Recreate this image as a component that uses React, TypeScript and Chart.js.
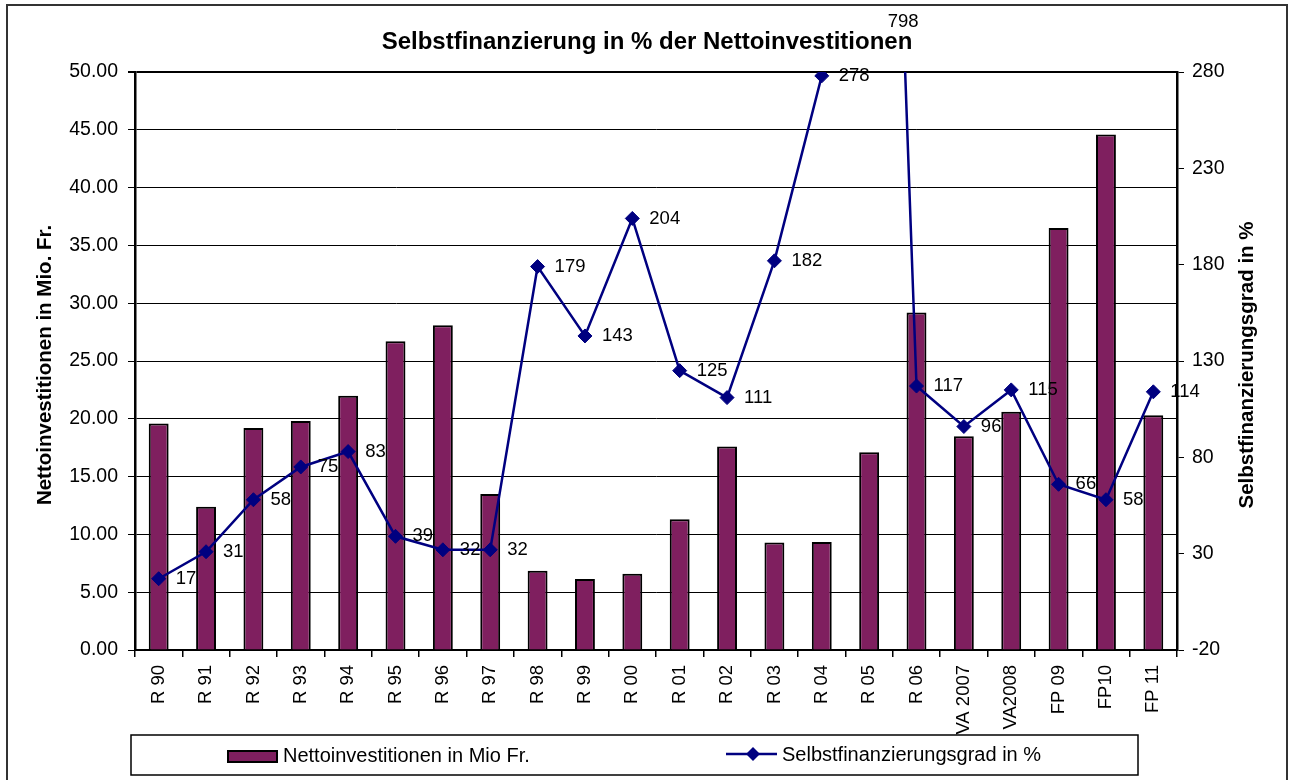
import React, { useEffect, useRef } from 'react';
import { Chart, registerables } from 'chart.js';

Chart.register(...registerables);

const categories = ['R 90', 'R 91', 'R 92', 'R 93', 'R 94', 'R 95', 'R 96', 'R 97', 'R 98', 'R 99', 'R 00', 'R 01', 'R 02', 'R 03', 'R 04', 'R 05', 'R 06', 'VA 2007', 'VA2008', 'FP 09', 'FP10', 'FP 11'];
const investments = [19.6, 12.4, 19.2, 19.8, 22.0, 26.7, 28.1, 13.5, 6.85, 6.15, 6.6, 11.3, 17.6, 9.3, 9.35, 17.1, 29.2, 18.5, 20.6, 36.5, 44.6, 20.3];
const selfFinancing = [17, 31, 58, 75, 83, 39, 32, 32, 179, 143, 204, 125, 111, 182, 278, 798, 117, 96, 115, 66, 58, 114];

const titleText = 'Selbstfinanzierung in % der Nettoinvestitionen';
const leftAxisTitle = 'Nettoinvestitionen in Mio. Fr.';
const rightAxisTitle = 'Selbstfinanzierungsgrad in %';
const barLabel = 'Nettoinvestitionen in Mio Fr.';
const lineLabel = 'Selbstfinanzierungsgrad in %';

const leftMin = 0;
const leftMax = 50;
const leftStep = 5;
const rightMin = -20;
const rightMax = 280;
const rightStep = 50;

const FONT = "'Liberation Sans', Arial, sans-serif";
const BAR_COLOR = '#7f1f5f';
const LINE_COLOR = '#000080';
const W = 1293;
const H = 780;

const decorPlugin = {
  id: 'decor',
  beforeDraw(chart: any) {
    const ctx = chart.ctx;
    ctx.save();
    ctx.fillStyle = '#ffffff';
    ctx.fillRect(0, 0, W, H);
    ctx.strokeStyle = '#333333';
    ctx.lineWidth = 2;
    ctx.strokeRect(7, 5, 1280, 800);
    ctx.restore();
  },
  afterDatasetsDraw(chart: any) {
    const ctx = chart.ctx;
    const area = chart.chartArea;
    const meta = chart.getDatasetMeta(0);
    ctx.save();
    ctx.fillStyle = '#000';
    ctx.font = `18.5px ${FONT}`;
    ctx.textBaseline = 'middle';
    meta.data.forEach((pt: any, i: number) => {
      const val = selfFinancing[i];
      if (pt.y >= area.top - 1) {
        ctx.textAlign = 'left';
        ctx.fillText(String(val), pt.x + 17, pt.y);
      } else {
        const other = meta.data[i + 1] && meta.data[i + 1].y >= area.top ? meta.data[i + 1] : meta.data[i - 1];
        const t = (area.top - pt.y) / (other.y - pt.y);
        const ix = pt.x + t * (other.x - pt.x);
        ctx.textAlign = 'center';
        ctx.fillText(String(val), ix - 2, 22);
      }
    });
    ctx.restore();
  },
  afterDraw(chart: any) {
    const ctx = chart.ctx;
    const area = chart.chartArea;
    const midY = (area.top + area.bottom) / 2 + 4;
    ctx.save();
    // Title
    ctx.fillStyle = '#000';
    ctx.font = `bold 24px ${FONT}`;
    ctx.textAlign = 'center';
    ctx.textBaseline = 'middle';
    ctx.fillText(titleText, 647, 42);
    // Axis titles
    ctx.font = `bold 20.5px ${FONT}`;
    ctx.save();
    ctx.translate(45, midY);
    ctx.rotate(-Math.PI / 2);
    ctx.fillText(leftAxisTitle, 0, 0);
    ctx.restore();
    ctx.save();
    ctx.translate(1247, midY);
    ctx.rotate(-Math.PI / 2);
    ctx.fillText(rightAxisTitle, 0, 0);
    ctx.restore();
    // Legend box
    ctx.fillStyle = '#ffffff';
    ctx.fillRect(131, 735, 1007, 40);
    ctx.strokeStyle = '#000';
    ctx.lineWidth = 1.5;
    ctx.strokeRect(131, 735, 1007, 40);
    // Bar legend item
    ctx.fillStyle = BAR_COLOR;
    ctx.fillRect(228, 751, 49, 11);
    ctx.lineWidth = 2;
    ctx.strokeRect(228, 751, 49, 11);
    ctx.fillStyle = '#000';
    ctx.font = `20px ${FONT}`;
    ctx.textAlign = 'left';
    ctx.textBaseline = 'middle';
    ctx.fillText(barLabel, 283, 756);
    // Line legend item
    ctx.strokeStyle = LINE_COLOR;
    ctx.lineWidth = 2.5;
    ctx.beginPath();
    ctx.moveTo(726, 754);
    ctx.lineTo(777, 754);
    ctx.stroke();
    ctx.fillStyle = LINE_COLOR;
    ctx.beginPath();
    ctx.moveTo(753, 747);
    ctx.lineTo(760, 754);
    ctx.lineTo(753, 761);
    ctx.lineTo(746, 754);
    ctx.closePath();
    ctx.fill();
    ctx.fillStyle = '#000';
    ctx.fillText(lineLabel, 782, 755);
    ctx.restore();
  },
};

export default function App() {
  const canvasRef = useRef<HTMLCanvasElement>(null);

  useEffect(() => {
    const canvas = canvasRef.current;
    if (!canvas) return;
    const chart = new Chart(canvas, {
      type: 'bar',
      data: {
        labels: categories,
        datasets: [
          {
            type: 'line',
            label: lineLabel,
            data: selfFinancing,
            yAxisID: 'y2',
            borderColor: LINE_COLOR,
            backgroundColor: LINE_COLOR,
            borderWidth: 2.5,
            pointStyle: 'rectRot',
            pointRadius: 7,
            pointBackgroundColor: LINE_COLOR,
            pointBorderColor: LINE_COLOR,
            pointBorderWidth: 1,
            tension: 0,
            order: 0,
          } as any,
          {
            type: 'bar',
            label: barLabel,
            data: investments,
            yAxisID: 'y',
            backgroundColor: BAR_COLOR,
            borderColor: '#000',
            borderWidth: 2,
            barPercentage: 0.42,
            categoryPercentage: 1,
            order: 1,
          } as any,
        ],
      },
      options: {
        responsive: false,
        animation: false,
        events: [],
        layout: { padding: { top: 72, left: 0, right: 0, bottom: 0 } },
        plugins: {
          legend: { display: false },
          title: { display: false },
          tooltip: { enabled: false },
        },
        scales: {
          x: {
            offset: true,
            afterFit: (s: any) => { s.height = H - 650; },
            grid: {
              offset: true,
              drawOnChartArea: false,
              drawTicks: true,
              tickLength: 7,
              color: '#000',
              lineWidth: 1.5,
            },
            border: { display: true, color: '#000', width: 2 },
            ticks: {
              color: '#000',
              font: { family: FONT, size: 18.5 },
              minRotation: 90,
              maxRotation: 90,
              autoSkip: false,
              padding: 8,
            },
          },
          y: {
            position: 'left',
            min: leftMin,
            max: leftMax,
            afterFit: (s: any) => { s.width = 135; },
            grid: {
              color: '#000',
              lineWidth: (c: any) => (c.tick && c.tick.value === leftMax ? 2 : 1),
              tickLength: 7,
            },
            border: { display: true, color: '#000', width: 2.5 },
            ticks: {
              stepSize: leftStep,
              color: '#000',
              padding: 10,
              font: { family: FONT, size: 19.5 },
              callback: (v: any) => Number(v).toFixed(2),
            },
          },
          y2: {
            position: 'right',
            min: rightMin,
            max: rightMax,
            afterFit: (s: any) => { s.width = W - 1177; },
            grid: {
              drawOnChartArea: false,
              color: '#000',
              tickLength: 7,
            },
            border: { display: true, color: '#000', width: 2.5 },
            ticks: {
              stepSize: rightStep,
              color: '#000',
              padding: 8,
              font: { family: FONT, size: 19.5 },
            },
          },
        },
      } as any,
      plugins: [decorPlugin],
    });
    return () => chart.destroy();
  }, []);

  return (
    <div style={{ position: 'fixed', left: 0, top: 0, width: W, height: H, background: '#fff' }}>
      <canvas ref={canvasRef} width={W} height={H} style={{ width: W, height: H, display: 'block' }} />
    </div>
  );
}
